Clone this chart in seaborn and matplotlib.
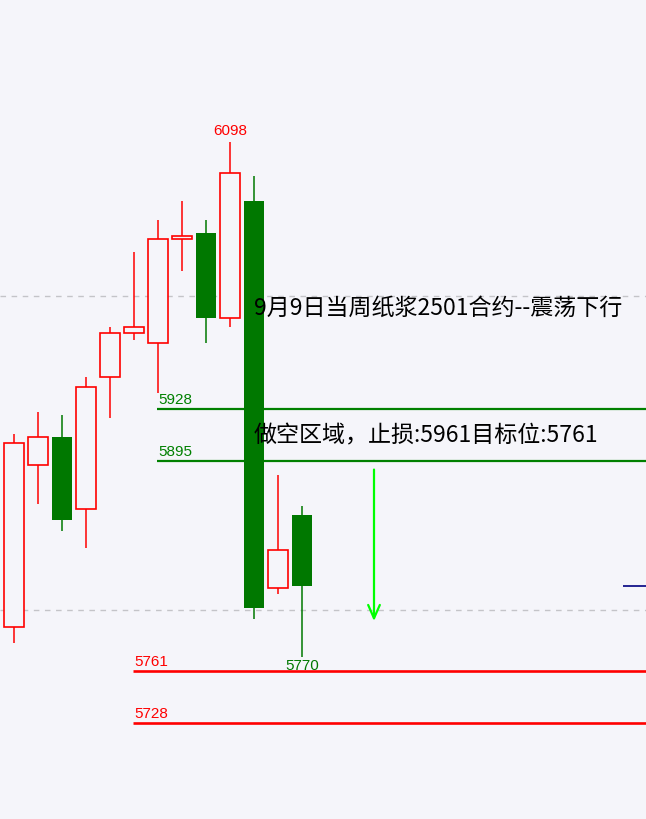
import matplotlib
matplotlib.use("Agg")
import matplotlib.pyplot as plt
import seaborn as sns
import numpy as np
import pandas as pd

sns.set_theme(style="white")
plt.rcParams['font.family'] = ['Noto Sans CJK SC', 'DejaVu Sans']

# --- données (cours estimés sur la capture) ---
opens  = [5790, 5789, 5892, 5910, 5864, 5948, 5976, 5970, 6036, 6040, 5986, 6060, 5814, 5860]
highs  = [5790, 5912, 5926, 5924, 5948, 5980, 6028, 6048, 6060, 6048, 6098, 6076, 5886, 5866]
lows   = [5785, 5779, 5867, 5850, 5839, 5922, 5972, 5938, 6016, 5970, 5980, 5794, 5810, 5770]
closes = [5785, 5906, 5910, 5857, 5942, 5976, 5980, 6036, 6038, 5986, 6078, 5801, 5838, 5815]
idx = list(range(-1, len(opens) - 1))

green_levels = [5928, 5895]
red_levels = [5761, 5728]
grid_levels = [6000, 5800]
last_price = 5815
arrow_from, arrow_to = 5891, 5791

title_txt = "9月9日当周纸浆2501合约--震荡下行"
plan_txt = "做空区域，止损:5961目标位:5761"

df = pd.DataFrame({'i': idx, 'o': opens, 'h': highs, 'l': lows, 'c': closes})
df['up'] = df['c'] >= df['o']

BG = '#f5f5fa'
RED = '#ff0000'
GREEN = '#007800'

fig = plt.figure(figsize=(6.46, 8.19), dpi=100, facecolor=BG)
ax = fig.add_axes([0, 0, 1, 1])
ax.set_facecolor(BG)
ax.set_xlim(-14 / 24, 632 / 24)
ax.set_ylim(5666.7, 6188.3)
ax.axis('off')

# grille pointillée
for g in grid_levels:
    ax.axhline(g, color='#c4c4c8', lw=1, ls=(0, (4, 4)), zorder=0)

# mèches
for up, col in [(True, RED), (False, GREEN)]:
    d = df[df['up'] == up]
    ax.vlines(d['i'], d['l'], d['h'], color=col, lw=1.1, zorder=2)

# corps
up = df[df['up']]
dn = df[~df['up']]
ax.bar(up['i'], (up['c'] - up['o']).clip(lower=2), bottom=up['o'], width=0.83,
       facecolor=BG, edgecolor=RED, linewidth=1.2, zorder=3)
ax.bar(dn['i'], dn['o'] - dn['c'], bottom=dn['c'], width=0.86,
       color=GREEN, linewidth=0, zorder=3)

# niveaux
lab = dict(fontsize=11, family='Liberation Sans')
for lv in green_levels:
    ax.hlines(lv, 5.96, 27, color='#008000', lw=1.6, zorder=1)
    ax.text(6.0, lv + 1.2, str(lv), color='#008000', va='bottom', ha='left', **lab)
for lv in red_levels:
    ax.hlines(lv, 4.96, 27, color=RED, lw=1.9, zorder=1)
    ax.text(5.0, lv + 1.2, str(lv), color=RED, va='bottom', ha='left', **lab)

# plus haut / plus bas
hi = df.loc[df['h'].idxmax()]
lo = df.loc[df['l'].idxmin()]
ax.text(hi['i'], hi['h'] + 2.5, f"{int(hi['h'])}", color=RED,
        ha='center', va='bottom', **lab)
ax.text(lo['i'], lo['l'] - 1.5, f"{int(lo['l'])}", color=GREEN,
        ha='center', va='top', zorder=5, **lab)

# dernier cours
ax.hlines(last_price, 25.375, 27, color='#000080', lw=1.2)

# flèche
ax.annotate('', xy=(15.0, arrow_to), xytext=(15.0, arrow_from),
            arrowprops=dict(arrowstyle='->,head_length=0.8,head_width=0.35',
                            color='#00ff00', lw=1.6))

# textes
ax.text(10.0, 5992, title_txt, fontsize=16.6, color='black', va='center',
        ha='left', zorder=6)
ax.text(10.0, 5911, plan_txt, fontsize=16.6, color='black', va='center',
        ha='left', zorder=6)

fig.savefig('out.png', dpi=100, facecolor=BG)
